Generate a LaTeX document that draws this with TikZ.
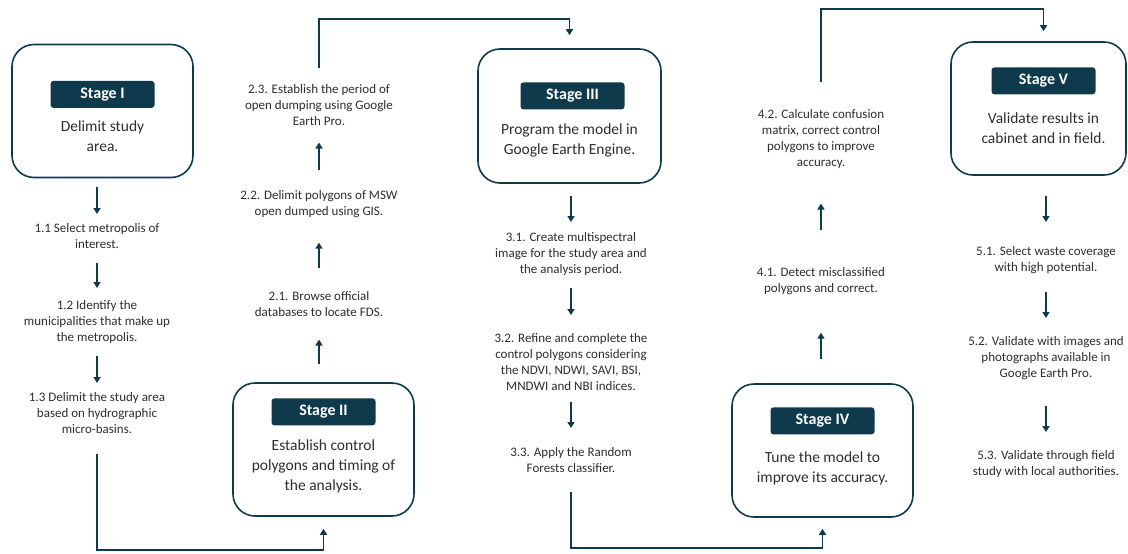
\documentclass[tikz,border=0pt]{standalone}
\usepackage{fontspec}
\setmainfont{Carlito}
\usetikzlibrary{arrows.meta,positioning,calc}
\definecolor{navy}{HTML}{0F3A4B}
\definecolor{ink}{HTML}{2E2E2E}
\tikzset{
	stage/.style ={draw=navy, line width=1.6pt, rounded corners=22pt, minimum width=181pt, minimum height=133pt},
	tag/.style = {fill=navy, text=white, rounded corners=3pt, inner sep=0pt, minimum width=104pt, minimum height=27pt, font=\fontsize{16}{18}\selectfont\bfseries},
	goal/.style = {text=ink, align=center, inner sep=0pt, font=\fontsize{15.5}{20}\selectfont},
	task/.style = {text=ink, align=center, inner sep=0pt, anchor=north, font=\fontsize{13}{16}\selectfont},
	flow/.style = {draw=navy, line width=1.6pt, -{Triangle[length=6pt,width=7pt]}},
	gap/.style 2 args = {shorten <=#1pt, shorten >=#2pt}
}

\begin{document}
\begin{tikzpicture}[x=1pt,y=-1pt]
	\useasboundingbox (0,0) rectangle (1128,554);
	\fill[white] (0,0) rectangle (1128,554);
	% stages
	\node[stage] (s1) at (102.5,111) {};
	\node[tag, below=37pt of s1.north] (l1) {Stage I};
	\node[goal, below=12pt of l1] (g1) {Delimit study\\area.};
	\node[stage] (s2) at (323.5,449.5) {};
	\node[tag, below=16pt of s2.north] (l2) {Stage II};
	\node[goal, below=14pt of l2] (g2) {Establish control\\polygons and timing of\\the analysis.};
	\node[stage, minimum width=183pt, minimum height=134pt] (s3) at (569.5,116) {};
	\node[tag, below=34pt of s3.north, xshift=3pt] (l3) {Stage III};
	\node[goal, below=14pt of s3.north |- l3.south] (g3) {Program the model in\\Google Earth Engine.};
	\node[stage] (s4) at (822.5,450.5) {};
	\node[tag, below=24pt of s4.north] (l4) {Stage IV};
	\node[goal, below=17pt of l4] (g4) {Tune the model to\\improve its accuracy.};
	\node[stage, minimum width=175pt] (s5) at (1038.5,108.5) {};
	\node[tag, below=26pt of s5.north, xshift=5pt] (l5) {Stage V};
	\node[goal, below=18pt of l5] (g5) {Validate results in\\cabinet and in field.};
	% tasks
	\node[task] (t11) at (97,223) {1.1 Select metropolis of\\interest.};
	\node[task] (t12) at (97,300) {1.2 Identify the\\municipalities that make up\\the metropolis.};
	\node[task] (t13) at (97,392) {1.3 Delimit the study area\\based on hydrographic\\micro-basins.};
	\node[task] (t21) at (319,291) {2.1. Browse official\\databases to locate FDS.};
	\node[task] (t22) at (319,190) {2.2. Delimit polygons of MSW\\open dumped using GIS.};
	\node[task] (t23) at (319,84) {2.3. Establish the period of\\open dumping using Google\\Earth Pro.};
	\node[task] (t31) at (571,232) {3.1. Create multispectral\\image for the study area and\\the analysis period.};
	\node[task] (t32) at (571,333) {3.2. Refine and complete the\\control polygons considering\\the NDVI, NDWI, SAVI, BSI,\\MNDWI and NBI indices.};
	\node[task] (t33) at (571,447) {3.3. Apply the Random\\Forests classifier.};
	\node[task] (t41) at (821,267) {4.1. Detect misclassified\\polygons and correct.};
	\node[task] (t42) at (821,109) {4.2. Calculate confusion\\matrix, correct control\\polygons to improve\\accuracy.};
	\node[task] (t51) at (1046,246) {5.1. Select waste coverage\\with high potential.};
	\node[task] (t52) at (1046,336) {5.2. Validate with images and\\photographs available in\\Google Earth Pro.};
	\node[task] (t53) at (1046,450) {5.3. Validate through field\\study with local authorities.};
	% bends
	\coordinate (b1) at (t13 |- 0,550);
	\coordinate (b2) at (t23 |- 0,19);
	\coordinate (b3) at (t33 |- 0,548);
	\coordinate (b4) at (t42 |- 0,9);

	\path (s1.south -| t11) edge[flow, gap={9}{9}] (t11);
	\path (t11) edge[flow, gap={14}{12}] (t12);
	\path (t12) edge[flow, gap={12}{9}] (t13);
	\path (s2.north -| t21) edge[flow, gap={18}{23}] (t21);
	\path (t21) edge[flow, gap={23}{25}] (t22);
	\path (t22) edge[flow, gap={20}{17}] (t23);
	\path (s3.south -| t31) edge[flow, gap={12}{10}] (t31);
	\path (t31) edge[flow, gap={12}{18}] (t32);
	\path (t32) edge[flow, gap={11}{19}] (t33);
	\path (s4.north -| t41) edge[flow, gap={24}{38}] (t41);
	\path (t41) edge[flow, gap={37}{35}] (t42);
	\path (s5.south -| t51) edge[flow, gap={20}{24}] (t51);
	\path (t51) edge[flow, gap={18}{18}] (t52);
	\path (t52) edge[flow, gap={26}{18}] (t53);

	\draw[flow, gap={20}{12}] (t13) |- (b1) -| (s2);
	\draw[flow, gap={16}{13}] (t23) |- (b2) -| (s3);
	\draw[flow, gap={19}{11}] (t33) |- (b3) -| (s4);
	\draw[flow, gap={27}{10}] (t42) |- (b4) -| ([xshift=5pt]s5.north);
\end{tikzpicture}
\end{document}
